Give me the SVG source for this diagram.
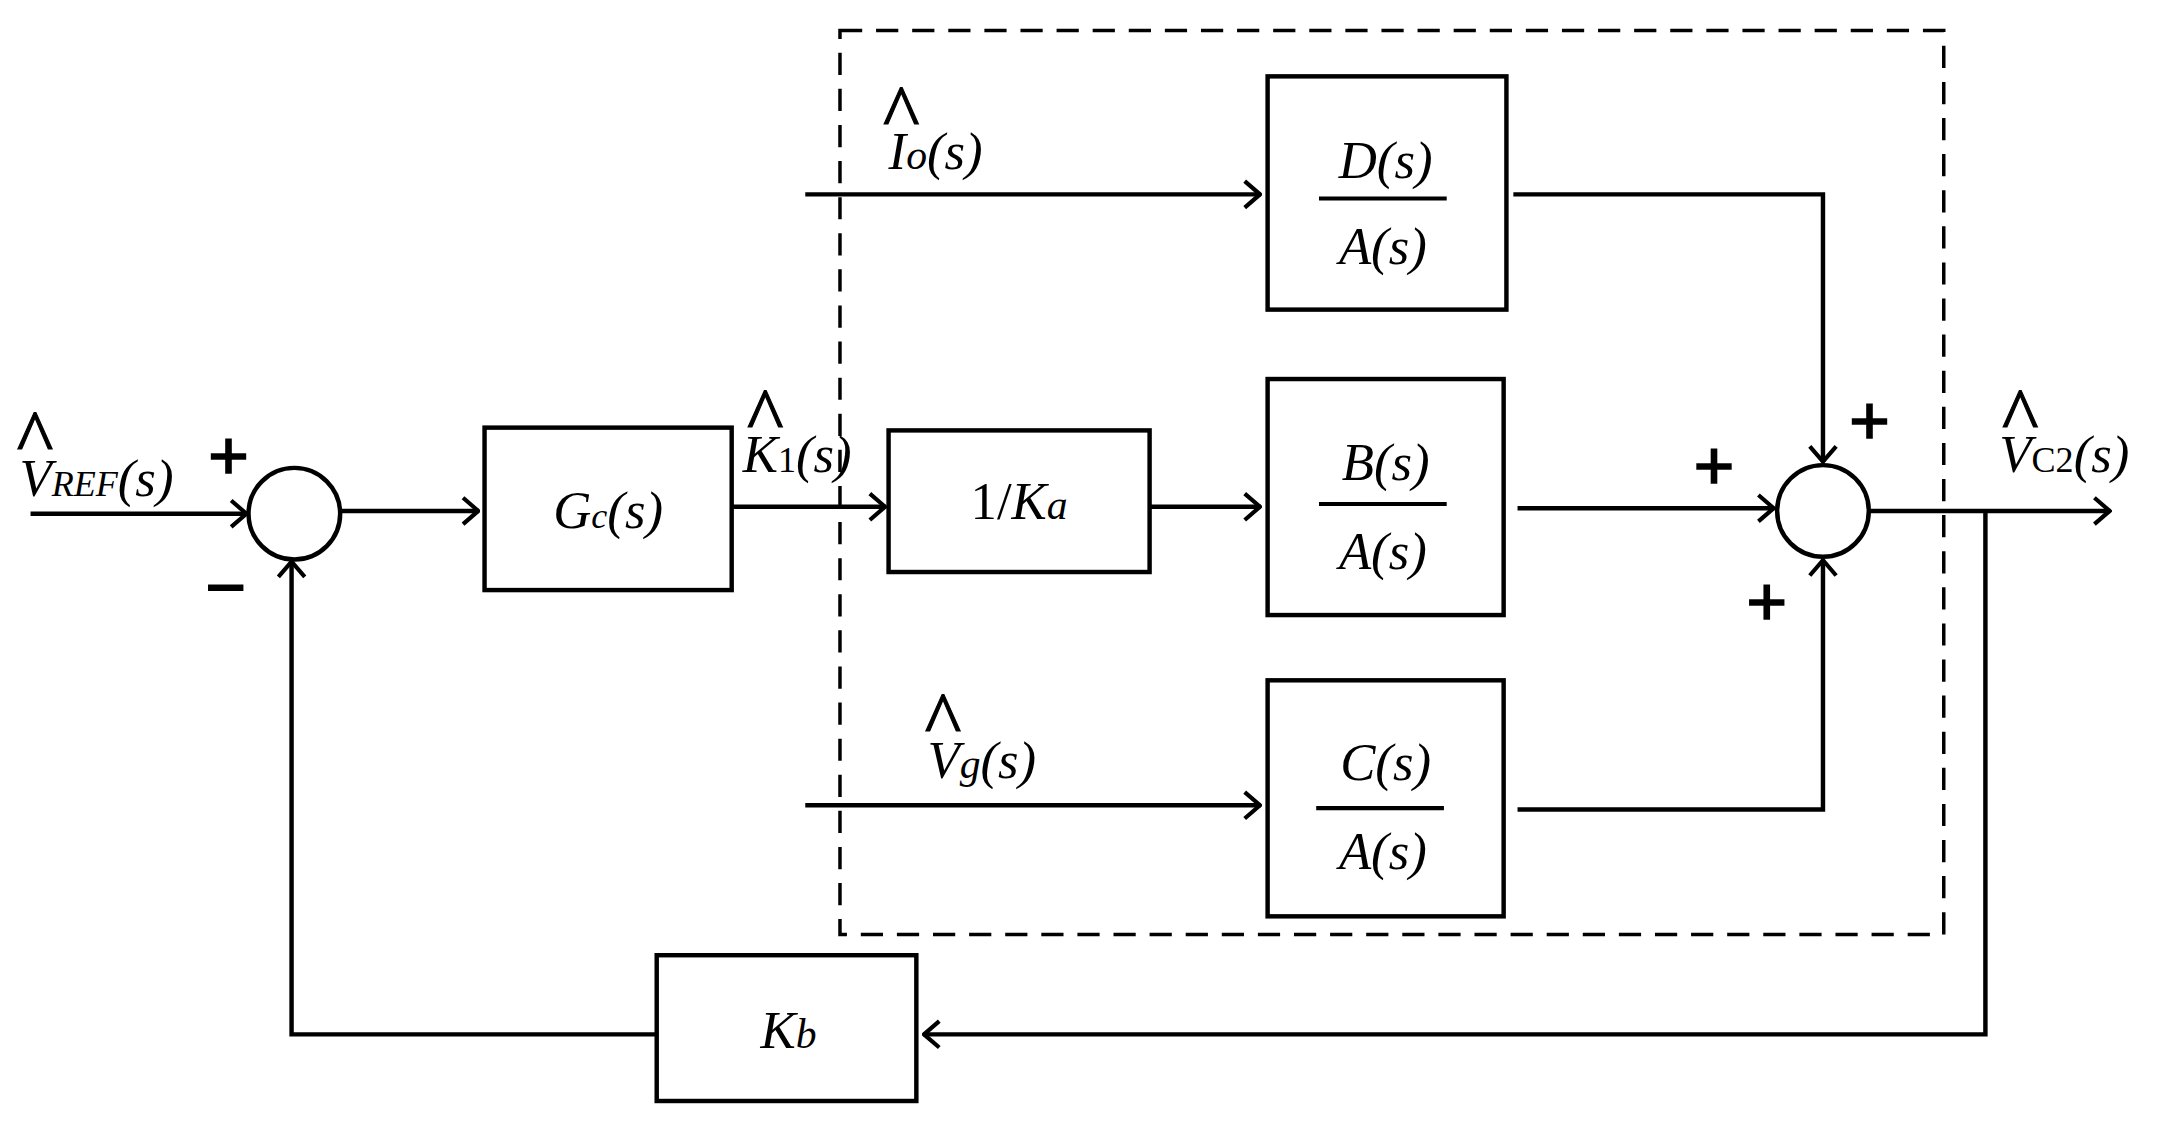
<svg xmlns="http://www.w3.org/2000/svg" width="2177" height="1138" viewBox="0 0 2177 1138">
<defs>
<marker id="ar" markerWidth="14" markerHeight="22" refX="13" refY="11" orient="auto" markerUnits="userSpaceOnUse" viewBox="0 0 14 22">
<path d="M1.5,1.5 L12.5,11 L1.5,20.5" fill="none" stroke="#000" stroke-width="3"/>
</marker>
<style>
.b{fill:#fff;stroke:#000;stroke-width:3.2}
.l{fill:none;stroke:#000;stroke-width:3}
.a{fill:none;stroke:#000;stroke-width:3.2;marker-end:url(#ar)}
.t{font-family:"Liberation Serif",serif;font-style:italic;font-size:38px;fill:#000}
.s{font-size:26px}
.h{font-family:"Liberation Serif",serif;font-size:56px;fill:#000;stroke:#000;stroke-width:0.8}
.p{font-family:"Liberation Sans",sans-serif;font-size:50px;fill:#000;stroke:#000;stroke-width:1.2}
</style>
</defs>
<rect width="2177" height="1138" fill="#fff"/>
<g transform="scale(1.3884)">
<rect id="dashed" x="605" y="22" width="795" height="651" fill="none" stroke="#000" stroke-width="2.5" stroke-dasharray="16,10"/>
<g id="connectors">
<path class="a" d="M22,370 H178"/>
<path class="a" d="M246,368 H345"/>
<path class="a" d="M527,365 H638"/>
<path class="a" d="M828,365 H908"/>
<path class="a" d="M580,140 H908"/>
<path class="a" d="M580,580 H908"/>
<path class="a" d="M1090,140 H1313 V333"/>
<path class="a" d="M1093,366 H1278"/>
<path class="a" d="M1093,583 H1313 V403"/>
<path class="a" d="M1347,368 H1520"/>
<path class="a" d="M1430,368 V745 H665"/>
<path class="a" d="M473,745 H210 V404"/>
</g>
<g id="sum1"><circle class="b" cx="212" cy="370" r="33"/>
<text class="p" x="150" y="345">+</text><text class="p" x="148" y="440">−</text></g>
<g id="sum2"><circle class="b" cx="1313" cy="368" r="33"/>
<text class="p" x="1220" y="352">+</text><text class="p" x="1332" y="320">+</text><text class="p" x="1258" y="450">+</text></g>
<g id="gc"><rect class="b" x="349" y="308" width="178" height="117"/>
<text class="t" x="438" y="380" text-anchor="middle">G<tspan class="s">c</tspan>(s)</text></g>
<g id="ka"><rect class="b" x="640" y="310" width="188" height="102"/>
<text class="t" x="734" y="374" text-anchor="middle"><tspan font-style="normal">1/</tspan>K<tspan font-size="30">a</tspan></text></g>
<g id="da"><rect class="b" x="913" y="55" width="172" height="168"/>
<line class="l" x1="950" y1="143" x2="1042" y2="143"/>
<text class="t" x="998" y="128" text-anchor="middle">D(s)</text>
<text class="t" x="996" y="190" text-anchor="middle">A(s)</text></g>
<g id="ba"><rect class="b" x="913" y="273" width="170" height="170"/>
<line class="l" x1="950" y1="363" x2="1042" y2="363"/>
<text class="t" x="998" y="346" text-anchor="middle">B(s)</text>
<text class="t" x="996" y="410" text-anchor="middle">A(s)</text></g>
<g id="ca"><rect class="b" x="913" y="490" width="170" height="170"/>
<line class="l" x1="948" y1="582" x2="1040" y2="582"/>
<text class="t" x="998" y="562" text-anchor="middle">C(s)</text>
<text class="t" x="996" y="626" text-anchor="middle">A(s)</text></g>
<g id="kb"><rect class="b" x="473" y="688" width="187" height="105"/>
<text class="t" x="568" y="755" text-anchor="middle">K<tspan font-size="30">b</tspan></text></g>
<g id="labels">
<text class="h" x="12" y="334">^</text>
<text class="t" x="14" y="357">V<tspan class="s">REF</tspan>(s)</text>
<text class="h" x="538" y="318">^</text>
<text class="t" x="535" y="340">K<tspan class="s" font-style="normal">1</tspan>(s)</text>
<text class="h" x="636" y="100">^</text>
<text class="t" x="640" y="122">I<tspan font-size="30">o</tspan>(s)</text>
<text class="h" x="666" y="537">^</text>
<text class="t" x="668" y="560">V<tspan font-size="30">g</tspan>(s)</text>
<text class="h" x="1442" y="318">^</text>
<text class="t" x="1440" y="340">V<tspan class="s" font-style="normal">C2</tspan>(s)</text>
</g>
</g>
</svg>
